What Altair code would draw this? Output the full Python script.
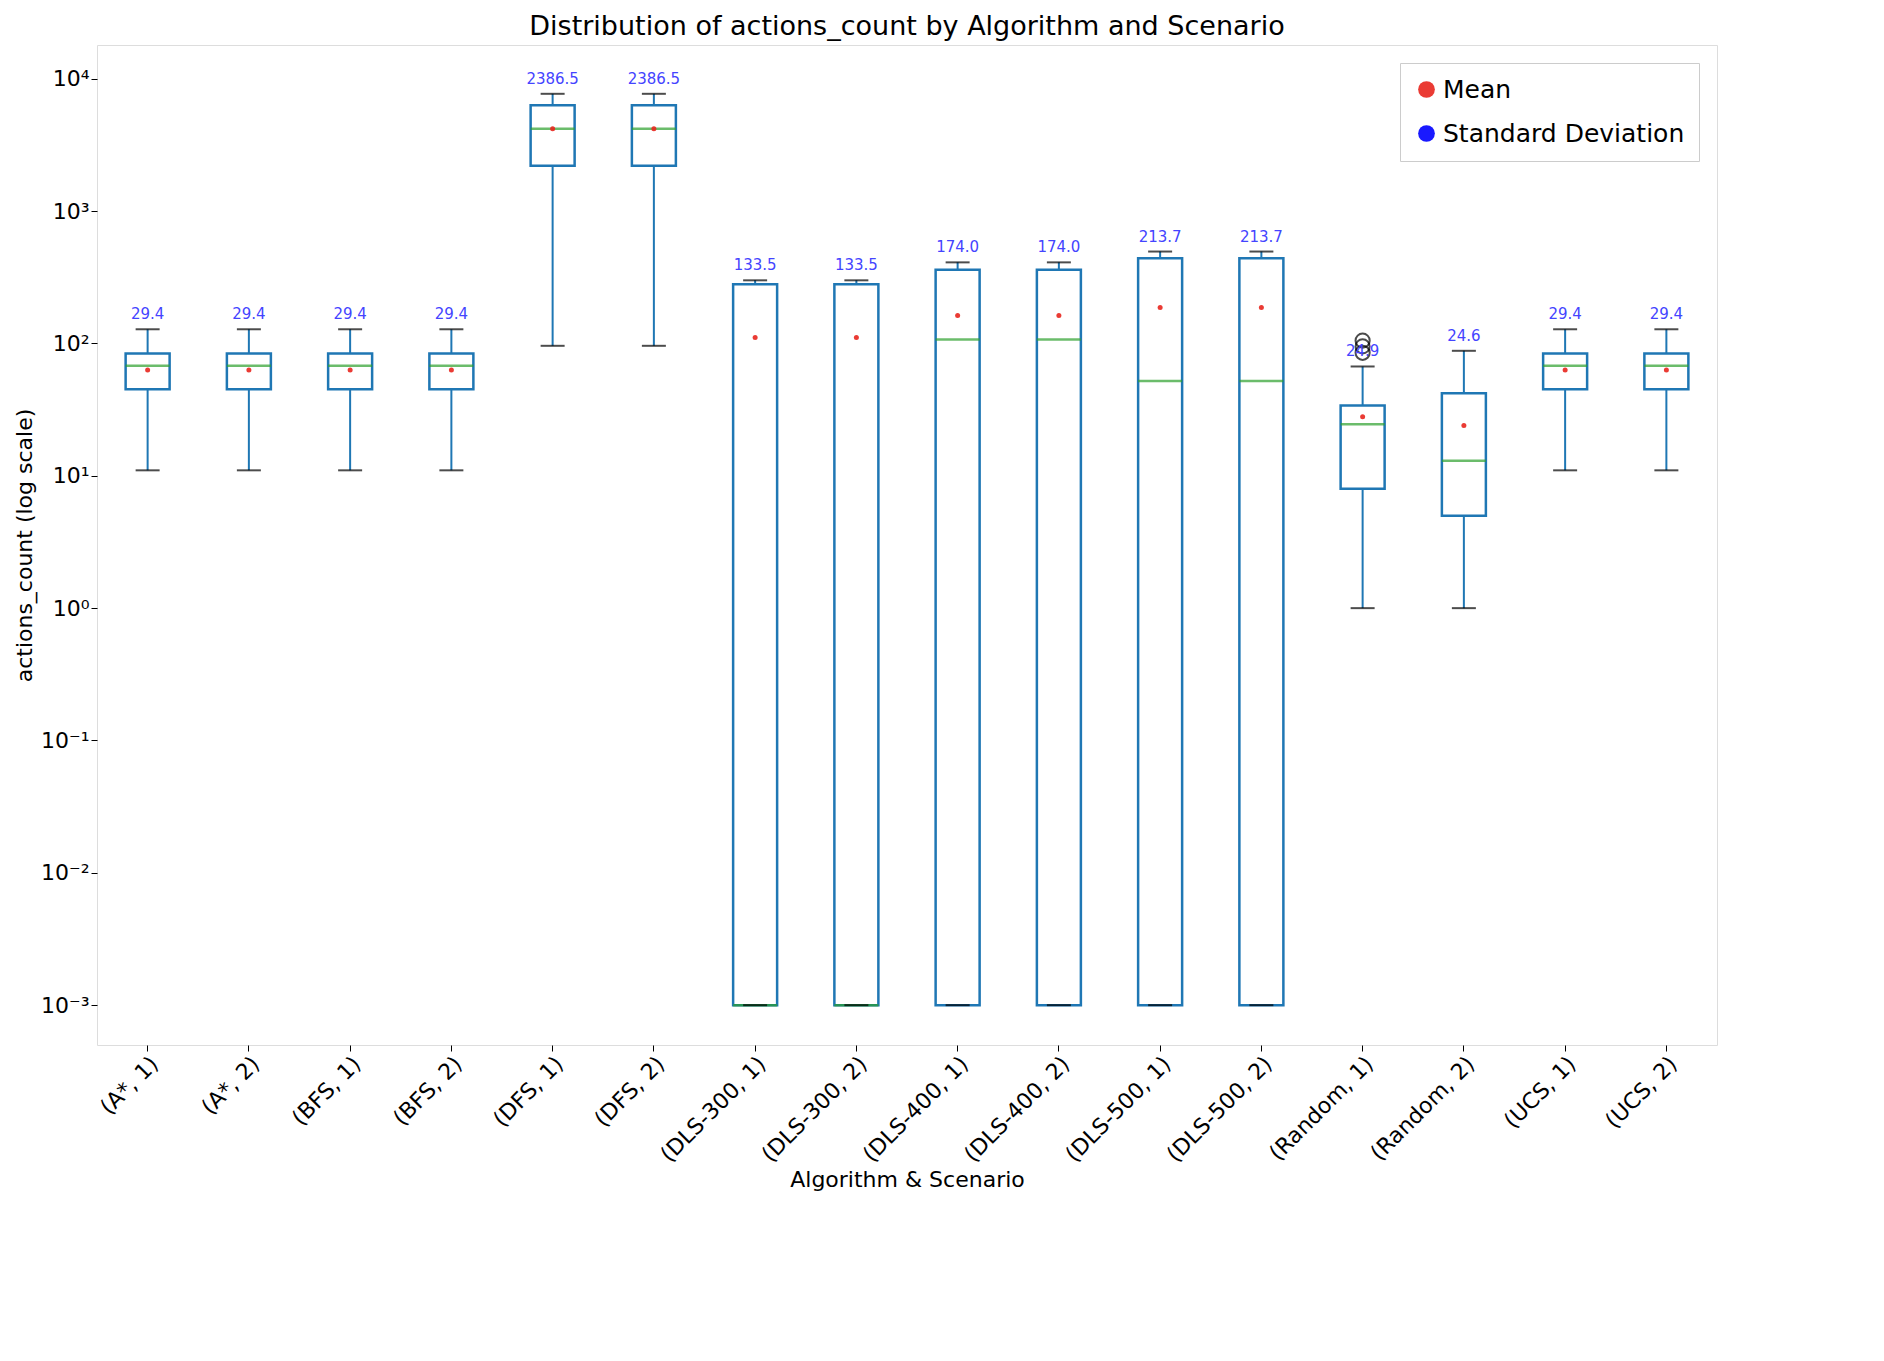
import altair as alt
import pandas as pd

categories = ["(A*, 1)", "(A*, 2)", "(BFS, 1)", "(BFS, 2)", "(DFS, 1)", "(DFS, 2)",
              "(DLS-300, 1)", "(DLS-300, 2)", "(DLS-400, 1)", "(DLS-400, 2)",
              "(DLS-500, 1)", "(DLS-500, 2)", "(Random, 1)", "(Random, 2)",
              "(UCS, 1)", "(UCS, 2)"]
whisker_low = [11, 11, 11, 11, 96, 96, 0.001, 0.001, 0.001, 0.001, 0.001, 0.001, 1, 1, 11, 11]
q1 = [45, 45, 45, 45, 2200, 2200, 0.001, 0.001, 0.001, 0.001, 0.001, 0.001, 8, 5, 45, 45]
median = [68, 68, 68, 68, 4200, 4200, 0.001, 0.001, 107, 107, 52, 52, 24.5, 13, 68, 68]
q3 = [84, 84, 84, 84, 6300, 6300, 280, 280, 360, 360, 440, 440, 34, 42, 84, 84]
whisker_high = [128, 128, 128, 128, 7700, 7700, 300, 300, 410, 410, 495, 495, 67, 88, 128, 128]
means = [63, 63, 63, 63, 4200, 4200, 111, 111, 163, 163, 187, 187, 28, 24, 63, 63]
stds = [29.4, 29.4, 29.4, 29.4, 2386.5, 2386.5, 133.5, 133.5, 174.0, 174.0,
        213.7, 213.7, 24.9, 24.6, 29.4, 29.4]
outlier_cat = ["(Random, 1)", "(Random, 1)", "(Random, 1)"]
outlier_val = [85, 95, 105]

df = pd.DataFrame({"cat": categories, "lo": whisker_low, "q1": q1, "med": median,
                   "q3": q3, "hi": whisker_high, "mean": means, "std": stds})
df["std_label"] = df["std"].map(lambda v: f"{v:.1f}")
df["series"] = "Mean"
out = pd.DataFrame({"cat": outlier_cat, "val": outlier_val})

sup = {"-": "⁻", "0": "⁰", "1": "¹", "2": "²", "3": "³", "4": "⁴"}
exps = list(range(-3, 5))
expr = "''"
for e in exps:
    s = "10" + "".join(sup[c] for c in str(e))
    expr = f"abs(log(datum.value)/LN10 - ({e})) < 0.01 ? '{s}' : ({expr})"

x = alt.X("cat:N", sort=categories, title="Algorithm & Scenario",
          axis=alt.Axis(labelAngle=-45, labelAlign="right", labelBaseline="top",
                        labelFontSize=22, titleFontSize=22, titleFontWeight="normal",
                        labelColor="black", titleColor="black", tickColor="black",
                        tickSize=6, grid=False, domain=False))
yscale = alt.Scale(type="log", domain=[0.0005, 18000], nice=False)
yax = alt.Axis(values=[10.0 ** e for e in exps], labelExpr=expr, labelFontSize=22,
               titleFontSize=22, titleFontWeight="normal", grid=False, domain=False,
               tickSize=6, tickColor="black", labelColor="black", titleColor="black")

base = alt.Chart(df).encode(x=x)
whisk = base.mark_rule(color="#1f77b4", strokeWidth=2).encode(
    y=alt.Y("lo:Q", scale=yscale, axis=yax, title="actions_count (log scale)"), y2="hi:Q")
box = base.mark_bar(fill="white", stroke="#1f77b4", strokeWidth=2.5, size=44).encode(
    y="q1:Q", y2="q3:Q")
med = base.mark_tick(color="#2ca02c", thickness=2.5, size=44).encode(y="med:Q")
cap_hi = base.mark_tick(color="black", thickness=2, size=24).encode(y="hi:Q")
cap_lo = base.mark_tick(color="black", thickness=2, size=24).encode(y="lo:Q")
mean_pts = base.mark_point(filled=True, size=25, opacity=0.9).encode(
    y="mean:Q",
    color=alt.Color("series:N", scale=alt.Scale(domain=["Mean", "Standard Deviation"],
                                                 range=["#e8261e", "blue"]),
                    legend=alt.Legend(title=None, orient="top-right", labelFontSize=25,
                                      labelLimit=0, symbolSize=280, symbolType="circle",
                                      strokeColor="#cccccc", padding=14,
                                      fillColor="white", offset=18, rowPadding=18)))
labels = base.mark_text(color="#4444ff", fontSize=15, dy=-15).encode(
    y="hi:Q", text="std_label:N")
outliers = alt.Chart(out).mark_point(color="black", size=200, strokeWidth=2).encode(
    x=alt.X("cat:N", sort=categories), y="val:Q")

chart = alt.layer(whisk, box, med, cap_hi, cap_lo, outliers, mean_pts, labels).properties(
    width=1620, height=1000,
    title=alt.Title("Distribution of actions_count by Algorithm and Scenario",
                    fontSize=27, fontWeight="normal", color="black"),
).configure_view(stroke="black", strokeWidth=1.5, strokeOpacity=1).configure(font="DejaVu Sans")

chart.save("out.html", embed_options={"renderer": "svg", "actions": False})
